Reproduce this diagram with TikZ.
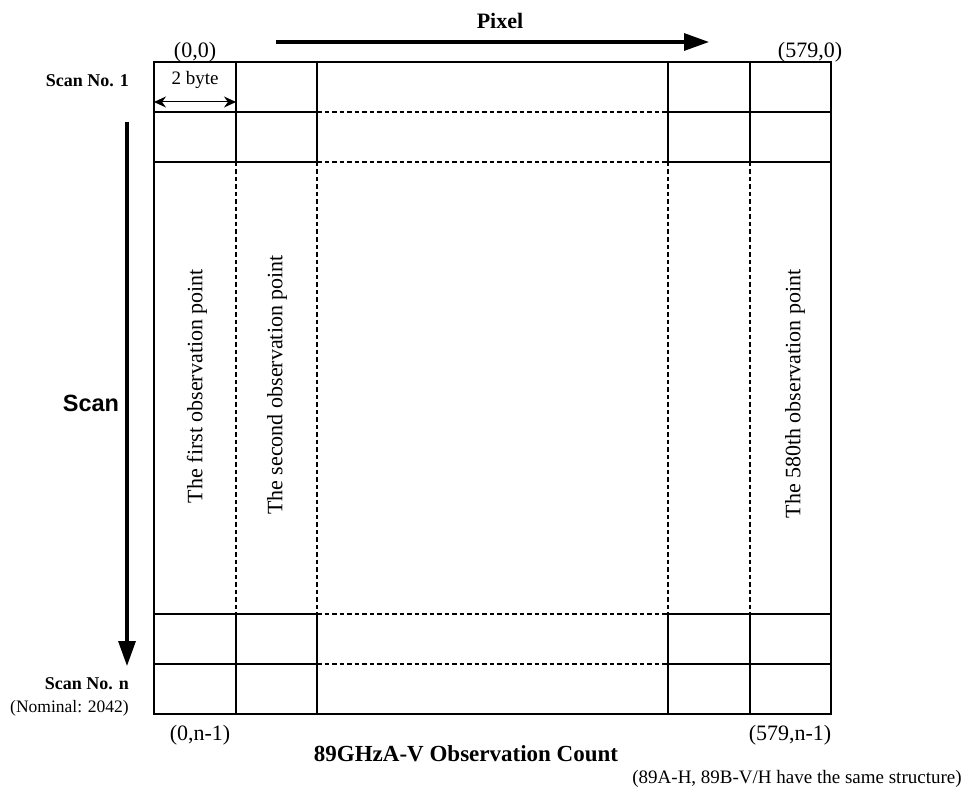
\documentclass[tikz,border=0pt]{standalone}
\usepackage{fontspec}
\setmainfont{Liberation Serif}
\newfontfamily\arialfont{Liberation Sans}
\usetikzlibrary{arrows.meta}
\begin{document}
\begin{tikzpicture}[x=1pt,y=-1pt,
  gridline/.style={line width=1.1pt},
  gridbox/.style={line width=1.3pt},
  griddash/.style={line width=1.1pt,dash pattern=on 4.5pt off 3pt},
  lbl/.style={inner sep=0pt,font=\fontsize{22}{24}\selectfont},
  boldlbl/.style={inner sep=0pt,font=\fontsize{18}{20}\selectfont\bfseries},
  vlabel/.style={inner sep=0pt,rotate=90,font=\fontsize{22}{24}\selectfont},
  bigarrow/.style={line width=3.2pt,-{Triangle[length=25pt,width=17pt]}}
]
\useasboundingbox (0,0) rectangle (976,794);
% grid
\draw[gridbox] (154,62) rectangle (831,714);
\foreach \y in {112,162,614,664}{
  \draw[gridline] (154,\y) -- (317,\y);
  \draw[gridline] (668,\y) -- (831,\y);
  \draw[griddash] (317,\y) -- (668,\y);
}
\foreach \x in {236,317,668,750}{
  \draw[gridline] (\x,62) -- (\x,162);
  \draw[gridline] (\x,614) -- (\x,714);
  \draw[griddash] (\x,162) -- (\x,614);
}
% top labels
\node[lbl,font=\fontsize{22}{24}\selectfont\bfseries] (pixel) at (500,21) {Pixel};
\coordinate (pxs) at (276,42);
\coordinate (pxe) at (709,42);
\draw[bigarrow] (pxs) -- (pxe);
\node[lbl] (c00) at (195,52) {(0,0)};
\node[lbl] (c5790) at (810,52) {(579,0)};
\node[boldlbl,anchor=east] (scan1) at (129,81) {Scan No. 1};
\node[inner sep=0pt,font=\fontsize{19}{21}\selectfont] (byte) at (195,80) {2 byte};
\coordinate (bl) at (154,102);
\coordinate (br) at (236,102);
\draw[line width=1pt,{Stealth[length=12pt,width=11pt]}-{Stealth[length=12pt,width=11pt]}] (bl) -- (br);
% scan
\node[inner sep=0pt,font=\arialfont\bfseries\fontsize{23.5}{25}\selectfont] (scan) at (91,403) {Scan};
\coordinate (scs) at (127,122);
\coordinate (sce) at (127,666);
\draw[bigarrow] (scs) -- (sce);
\node[boldlbl,anchor=east] (scann) at (129,684) {Scan No. n};
\node[inner sep=0pt,anchor=east,font=\fontsize{17.5}{20}\selectfont] (nom) at (129,708) {(Nominal: 2042)};
% vertical labels
\node[vlabel] (first) at (197,386) {The first observation point};
\node[vlabel] (second) at (277,385) {The second observation point};
\node[vlabel] (last) at (795,394) {The 580th observation point};
% bottom labels
\node[lbl] (c0n) at (200,735) {(0,n-1)};
\node[lbl] (c579n) at (790,735) {(579,n-1)};
\node[lbl,font=\fontsize{23}{25}\selectfont\bfseries] (title) at (466,754) {89GHzA-V Observation Count};
\node[inner sep=0pt,font=\fontsize{19}{21}\selectfont] (note) at (797,779) {(89A-H, 89B-V/H have the same structure)};
\end{tikzpicture}
\end{document}
